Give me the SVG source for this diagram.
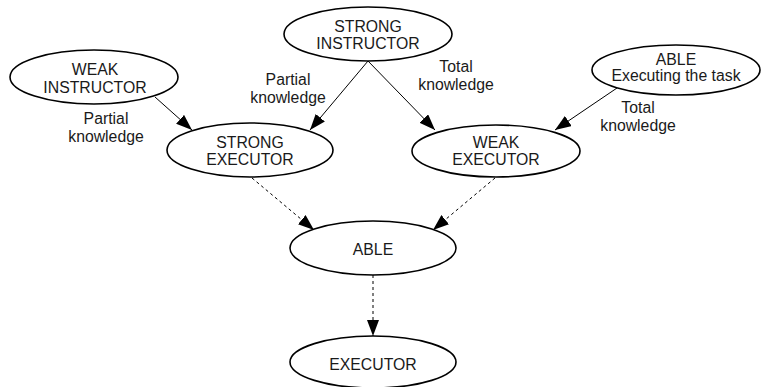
<svg xmlns="http://www.w3.org/2000/svg" width="762" height="387" viewBox="0 0 762 387">
<style>
  .node ellipse { fill: #ffffff; stroke: #000000; stroke-width: 1.6; }
  .node text, .lbl { font-family: "Liberation Sans", Arial, sans-serif; font-size: 15.8px; fill: #1a1a1a; text-anchor: middle; }
  .small { font-size: 14px; }
  .edge { stroke: #000000; stroke-width: 1; fill: none; marker-end: url(#arr); }
  .dash { stroke-dasharray: 3 3; }
</style>
<defs>
  <marker id="arr" viewBox="0 0 16 12" refX="16" refY="6" markerWidth="16" markerHeight="12" markerUnits="userSpaceOnUse" orient="auto">
    <path d="M0,0 L16,6 L0,12 Z" fill="#000000"/>
  </marker>
</defs>
<rect width="762" height="387" fill="#ffffff"/>
<g id="connectors">
  <line class="edge" x1="155" y1="97" x2="192" y2="130"/>
  <line class="edge" x1="368" y1="61" x2="310" y2="130"/>
  <line class="edge" x1="368" y1="61" x2="435" y2="130"/>
  <line class="edge" x1="617" y1="88" x2="555" y2="130"/>
  <line class="edge dash" x1="252" y1="178" x2="314" y2="230"/>
  <line class="edge dash" x1="495" y1="178" x2="433" y2="230"/>
  <line class="edge dash" x1="373" y1="275" x2="373" y2="336"/>
</g>
<g id="labels">
  <text class="lbl" x="106" y="124">Partial</text>
  <text class="lbl" x="106" y="142">knowledge</text>
  <text class="lbl" x="288" y="85">Partial</text>
  <text class="lbl" x="288" y="103">knowledge</text>
  <text class="lbl" x="456" y="72">Total</text>
  <text class="lbl" x="456" y="90">knowledge</text>
  <text class="lbl" x="638" y="113">Total</text>
  <text class="lbl" x="638" y="131">knowledge</text>
</g>
<g id="weak-instructor" class="node">
  <ellipse cx="94" cy="77" rx="84" ry="27"/>
  <text x="95" y="75">WEAK</text>
  <text x="95" y="93">INSTRUCTOR</text>
</g>
<g id="strong-instructor" class="node">
  <ellipse cx="368" cy="34" rx="84" ry="27"/>
  <text x="368" y="32">STRONG</text>
  <text x="368" y="49">INSTRUCTOR</text>
</g>
<g id="able-task" class="node">
  <ellipse cx="676" cy="70" rx="84" ry="25"/>
  <text x="676" y="65">ABLE</text>
  <text class="small" x="676" y="81">Executing the task</text>
</g>
<g id="strong-executor" class="node">
  <ellipse cx="250" cy="150" rx="83" ry="27"/>
  <text x="250" y="148">STRONG</text>
  <text x="250" y="165">EXECUTOR</text>
</g>
<g id="weak-executor" class="node">
  <ellipse cx="496" cy="151" rx="84" ry="26"/>
  <text x="496" y="148">WEAK</text>
  <text x="496" y="165">EXECUTOR</text>
</g>
<g id="able" class="node">
  <ellipse cx="373" cy="248" rx="83" ry="27"/>
  <text x="373" y="255">ABLE</text>
</g>
<g id="executor" class="node">
  <ellipse cx="373" cy="362" rx="83" ry="26"/>
  <text x="373" y="370">EXECUTOR</text>
</g>
</svg>
